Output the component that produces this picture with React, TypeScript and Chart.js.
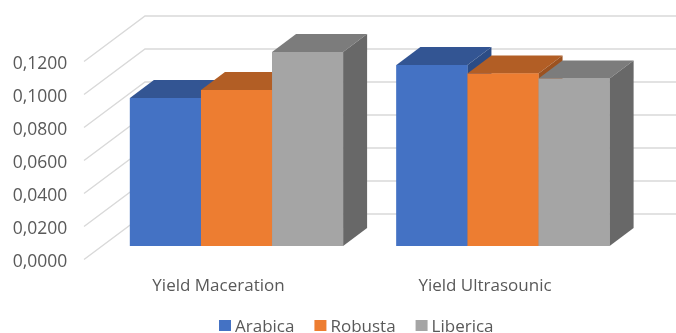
import React, { useEffect, useRef } from "react";
import { Chart, registerables } from "chart.js";

Chart.register(...registerables);

const categories = ["Yield Maceration", "Yield Ultrasounic"];
const arabica = [0.0897, 0.1097];
const robusta = [0.0945, 0.1045];
const liberica = [0.1176, 0.1015];

const frontColors = ["#4472C4", "#ED7D31", "#A5A5A5"];
const topColors = ["#335593", "#B25E25", "#7C7C7C"];
const sideColors = ["#2C4C85", "#9C5220", "#686868"];
const seriesNames = ["Arabica", "Robusta", "Liberica"];
const seriesValues = [arabica, robusta, liberica];

const FONT = "'Open Sans', sans-serif";
const TEXT = "#595959";
const GRID = "#D9D9D9";

// Perspective of the box: bars recede by DEPTH_X / DEPTH_Y, and the
// floor runs from the front edge (axis labels) to the rear wall.
const DEPTH_X = 24;
const DEPTH_Y = 18;
const WALL_FRONT = { x: 84, dy: 13.5 };
const WALL_BACK = { x: 145, dy: -32 };

const wallGrid = {
  id: "wallGrid",
  beforeDatasetsDraw(chart: any) {
    const { ctx, scales } = chart;
    ctx.save();
    ctx.strokeStyle = GRID;
    ctx.lineWidth = 1.4;
    for (const tick of scales.y.ticks) {
      const y = scales.y.getPixelForValue(tick.value);
      ctx.beginPath();
      ctx.moveTo(WALL_FRONT.x, y + WALL_FRONT.dy);
      ctx.lineTo(WALL_BACK.x, y + WALL_BACK.dy);
      ctx.lineTo(chart.width, y + WALL_BACK.dy);
      ctx.stroke();
    }
    ctx.restore();
  },
};

const polygon = (ctx: any, pts: number[][], fill: string) => {
  ctx.fillStyle = fill;
  ctx.beginPath();
  pts.forEach(([x, y], i) => (i ? ctx.lineTo(x, y) : ctx.moveTo(x, y)));
  ctx.closePath();
  ctx.fill();
};

// Extrudes each bar: top and side faces first, then its front face again,
// walking left to right so that nearer neighbours cover the faces behind them.
const extrudedBars = {
  id: "extrudedBars",
  afterDatasetsDraw(chart: any) {
    const { ctx } = chart;
    ctx.save();
    categories.forEach((_, c) => {
      seriesValues.forEach((__, s) => {
        const bar = chart.getDatasetMeta(s).data[c];
        const { x, y, width, base } = bar.getProps(["x", "y", "width", "base"], true);
        const l = x - width / 2;
        const r = x + width / 2;
        polygon(ctx, [[l, y], [l + DEPTH_X, y - DEPTH_Y], [r + DEPTH_X, y - DEPTH_Y], [r, y]], topColors[s]);
        polygon(ctx, [[r, y], [r + DEPTH_X, y - DEPTH_Y], [r + DEPTH_X, base - DEPTH_Y], [r, base]], sideColors[s]);
        bar.draw(ctx);
      });
    });
    ctx.restore();
  },
};

// Compact legend row with a tight swatch-to-text gap, built from the dataset list.
const swatchLegend = {
  id: "swatchLegend",
  afterDraw(chart: any) {
    const { ctx } = chart;
    ctx.save();
    ctx.font = `17px ${FONT}`;
    ctx.textBaseline = "alphabetic";
    ctx.textAlign = "left";
    let x = 219;
    chart.data.datasets.forEach((ds: any) => {
      ctx.fillStyle = ds.backgroundColor;
      ctx.fillRect(x, 320, 12, 11);
      ctx.fillStyle = TEXT;
      ctx.fillText(ds.label, x + 16, 332);
      x += 16 + ctx.measureText(ds.label).width + 20;
    });
    ctx.restore();
  },
};

export default function App() {
  const canvasRef = useRef<HTMLCanvasElement | null>(null);

  useEffect(() => {
    document.body.style.margin = "0";
    const chart = new Chart(canvasRef.current as HTMLCanvasElement, {
      type: "bar",
      data: {
        labels: categories,
        datasets: seriesNames.map((label, s) => ({
          label,
          data: seriesValues[s],
          backgroundColor: frontColors[s],
          borderWidth: 0,
          categoryPercentage: 0.8,
          barPercentage: 1,
        })),
      },
      options: {
        responsive: false,
        animation: false,
        layout: { padding: { top: 48, right: 39.75, left: 0, bottom: 0 } },
        plugins: {
          tooltip: { enabled: false },
          title: { display: false },
          legend: { display: false },
        },
        scales: {
          x: {
            grid: { display: false, drawTicks: false },
            border: { display: false },
            ticks: {
              color: TEXT,
              padding: 30,
              labelOffset: -18,
              font: { family: FONT, size: 17 },
              maxRotation: 0,
            },
            afterFit(scale: any) {
              scale.height = 87;
            },
          },
          y: {
            min: 0,
            max: 0.12,
            grid: { display: false, drawTicks: false },
            border: { display: false },
            ticks: {
              stepSize: 0.02,
              color: TEXT,
              padding: 36,
              labelOffset: 16,
              font: { family: FONT, size: 17.5 },
              callback: (v: any) => Number(v).toFixed(4).replace(".", ","),
            },
            afterFit(scale: any) {
              scale.width = 103.25;
            },
          },
        },
      },
      plugins: [wallGrid, extrudedBars, swatchLegend],
    } as any);
    return () => chart.destroy();
  }, []);

  return <canvas ref={canvasRef} width={676} height={333} style={{ display: "block" }} />;
}
